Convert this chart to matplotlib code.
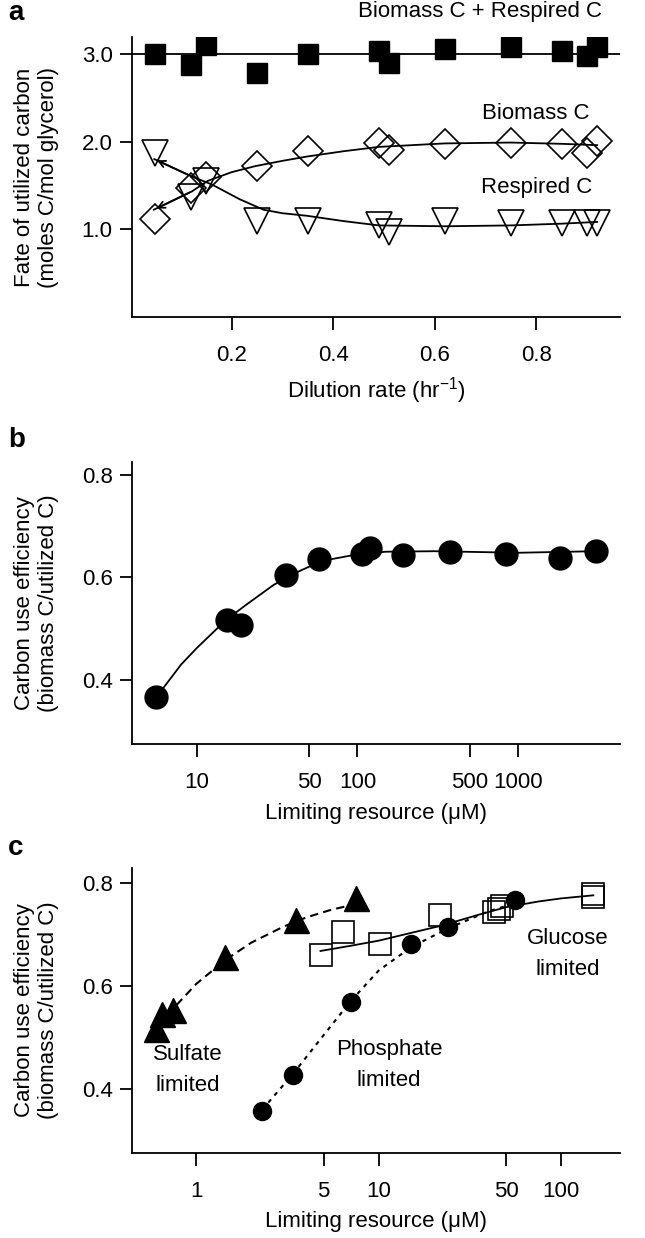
import matplotlib
matplotlib.use("Agg")
import matplotlib.pyplot as plt

plt.rcParams['font.family'] = ['Liberation Sans', 'DejaVu Sans']
plt.rcParams['mathtext.fontset'] = 'custom'
plt.rcParams['mathtext.rm'] = 'Liberation Sans'
plt.rcParams['mathtext.it'] = 'Liberation Sans:italic'
plt.rcParams['font.size'] = 16

# ---- panel a: fate of utilized carbon vs dilution rate ----
dil = [0.05, 0.12, 0.15, 0.25, 0.35, 0.49, 0.51, 0.62, 0.75, 0.85, 0.90, 0.92]
total_c = [3.00, 2.88, 3.11, 2.79, 3.00, 3.04, 2.90, 3.06, 3.08, 3.04, 2.98, 3.08]
biomass_c = [1.11, 1.47, 1.60, 1.72, 1.89, 1.99, 1.91, 1.97, 1.99, 1.97, 1.87, 2.01]
respired_c = [1.87, 1.37, 1.55, 1.09, 1.09, 1.05, 0.97, 1.09, 1.07, 1.07, 1.07, 1.07]

total_fit_x = [0.004, 0.965]
total_fit_y = [3.0, 3.0]
bio_fit_x = [0.047, 0.122, 0.153, 0.20, 0.247, 0.30, 0.349, 0.42, 0.49, 0.62, 0.75, 0.852, 0.92]
bio_fit_y = [1.22, 1.43, 1.55, 1.65, 1.72, 1.78, 1.83, 1.89, 1.94, 1.98, 1.99, 1.975, 1.96]
resp_fit_x = [0.048, 0.122, 0.161, 0.216, 0.263, 0.30, 0.349, 0.42, 0.49, 0.62, 0.75, 0.85, 0.92]
resp_fit_y = [1.80, 1.60, 1.51, 1.34, 1.22, 1.18, 1.15, 1.09, 1.04, 1.03, 1.04, 1.06, 1.08]

# ---- panel b: CUE vs limiting resource (glycerol) ----
res_b = [5.6, 15.5, 18.9, 36, 58, 106, 119, 192, 378, 844, 1820, 3060]
cue_b = [0.366, 0.517, 0.507, 0.605, 0.635, 0.646, 0.657, 0.644, 0.650, 0.646, 0.638, 0.652]
fit_b_x = [5.6, 8, 10, 15, 20, 30, 40, 60, 100, 150, 300, 1000, 3000]
fit_b_y = [0.366, 0.43, 0.462, 0.515, 0.545, 0.585, 0.607, 0.632, 0.645, 0.650, 0.651, 0.648, 0.651]

# ---- panel c: CUE vs limiting resource for three nutrients ----
sulf_x = [0.60, 0.65, 0.75, 1.44, 3.53, 7.47]
sulf_y = [0.517, 0.546, 0.553, 0.657, 0.729, 0.771]
sulf_fit_x = [0.78, 1.0, 1.44, 2.0, 3.0, 4.0, 5.5, 7.3]
sulf_fit_y = [0.563, 0.604, 0.650, 0.684, 0.715, 0.733, 0.748, 0.758]

gluc_x = [4.8, 6.4, 10.2, 21.8, 42.8, 45.5, 47.5, 150, 150]
gluc_y = [0.660, 0.705, 0.681, 0.737, 0.743, 0.750, 0.755, 0.772, 0.779]
gluc_fit_x = [4.8, 7, 10, 15, 22, 35, 50, 75, 100, 150]
gluc_fit_y = [0.668, 0.678, 0.688, 0.703, 0.717, 0.738, 0.753, 0.764, 0.770, 0.776]

phos_x = [2.28, 3.41, 7.03, 15.0, 24.1, 55.5]
phos_y = [0.357, 0.428, 0.569, 0.681, 0.714, 0.766]
phos_fit_x = [2.3, 3.4, 5, 7, 10, 15, 24, 40, 55]
phos_fit_y = [0.36, 0.43, 0.505, 0.57, 0.63, 0.675, 0.712, 0.745, 0.76]

W, H = 645, 1238
fig = plt.figure(figsize=(W / 100, H / 100), dpi=100)


def make_ax(top_px, bottom_px, left_px=132, right_px=620):
    rect = [left_px / W, 1 - bottom_px / H, (right_px - left_px) / W, (bottom_px - top_px) / H]
    ax = fig.add_axes(rect)
    for s in ['top', 'right']:
        ax.spines[s].set_visible(False)
    for s in ['left', 'bottom']:
        ax.spines[s].set_linewidth(1.3)
    ax.tick_params(length=9, width=1.3, labelsize=16)
    ax.tick_params(axis='x', pad=11)
    ax.tick_params(axis='y', pad=5)
    ax.minorticks_off()
    return ax


lk = dict(color='black', lw=1.3)

# panel a
ax = make_ax(37, 317)
ax.plot(total_fit_x, total_fit_y, **lk, zorder=1)
ax.plot(bio_fit_x, bio_fit_y, **lk, zorder=1)
ax.plot(resp_fit_x, resp_fit_y, **lk, zorder=1)
for fx, fy in [(bio_fit_x, bio_fit_y), (resp_fit_x, resp_fit_y)]:
    ax.annotate('', xy=(fx[0], fy[0]), xytext=(fx[1], fy[1]),
                arrowprops=dict(arrowstyle='->', color='black', lw=1.3, mutation_scale=12))
ax.plot(dil, total_c, 's', ms=14, mfc='black', mec='black', ls='none', zorder=3)
ax.plot(dil, biomass_c, 'D', ms=15.5, mfc='none', mec='black', mew=1.2, ls='none', zorder=3)
ax.plot(dil, respired_c, 'v', ms=19, mfc='none', mec='black', mew=1.2, ls='none', zorder=3)
ax.set_xlim(0.004, 0.965)
ax.set_ylim(-0.01, 3.2)
ax.set_xticks([0.2, 0.4, 0.6, 0.8])
ax.set_xticklabels(['0.2', '0.4', '0.6', '0.8'])
ax.set_yticks([1.0, 2.0, 3.0])
ax.set_yticklabels(['1.0', '2.0', '3.0'])
ax.set_xlabel('Dilution rate (hr$^{-1}$)', labelpad=7)
ax.set_ylabel('Fate of utilized carbon\n(moles C/mol glycerol)', labelpad=16)
ax.text(0.69, 3.49, 'Biomass C + Respired C', ha='center', va='center', clip_on=False)
ax.text(0.80, 2.32, 'Biomass C', ha='center', va='center')
ax.text(0.80, 1.47, 'Respired C', ha='center', va='center')

# panel b
ax = make_ax(462, 744)
ax.set_xscale('log')
ax.plot(fit_b_x, fit_b_y, **lk, zorder=1)
ax.plot(res_b, cue_b, 'o', ms=16.5, mfc='black', mec='black', ls='none', zorder=3)
ax.set_xlim(3.96, 4290)
ax.set_ylim(0.275, 0.825)
ax.set_xticks([10, 50, 100, 500, 1000])
ax.set_xticklabels(['10', '50', '100', '500', '1000'])
ax.minorticks_off()
ax.set_yticks([0.4, 0.6, 0.8])
ax.set_yticklabels(['0.4', '0.6', '0.8'])
ax.set_xlabel('Limiting resource (μM)', labelpad=7)
ax.set_ylabel('Carbon use efficiency\n(biomass C/utilized C)', labelpad=16)

# panel c
ax = make_ax(868, 1153)
ax.set_xscale('log')
ax.plot(sulf_fit_x, sulf_fit_y, color='black', lw=1.5, ls=(0, (4, 2.5)), zorder=1)
ax.plot(gluc_fit_x, gluc_fit_y, **lk, zorder=1)
ax.plot(phos_fit_x, phos_fit_y, color='black', lw=1.5, ls=(0, (2, 2.5)), zorder=1)
ax.plot(sulf_x, sulf_y, '^', ms=18, mfc='black', mec='black', ls='none', zorder=3)
ax.plot(gluc_x, gluc_y, 's', ms=15.5, mfc='none', mec='black', mew=1.2, ls='none', zorder=3)
ax.plot(phos_x, phos_y, 'o', ms=13, mfc='black', mec='black', ls='none', zorder=3)
ax.set_xlim(0.445, 210)
ax.set_ylim(0.276, 0.829)
ax.set_xticks([1, 5, 10, 50, 100])
ax.set_xticklabels(['1', '5', '10', '50', '100'])
ax.minorticks_off()
ax.set_yticks([0.4, 0.6, 0.8])
ax.set_yticklabels(['0.4', '0.6', '0.8'])
ax.set_xlabel('Limiting resource (μM)', labelpad=7)
ax.set_ylabel('Carbon use efficiency\n(biomass C/utilized C)', labelpad=16)
ax.text(0.9, 0.437, 'Sulfate\nlimited', ha='center', va='center', linespacing=1.6)
ax.text(11.4, 0.447, 'Phosphate\nlimited', ha='center', va='center', linespacing=1.6)
ax.text(108, 0.662, 'Glucose\nlimited', ha='center', va='center', linespacing=1.6)

for lab, ypx in [('a', 13), ('b', 440), ('c', 848)]:
    fig.text(8 / W, 1 - ypx / H, lab, fontsize=20, fontweight='bold', ha='left', va='center')

fig.savefig('out.png', dpi=100)
